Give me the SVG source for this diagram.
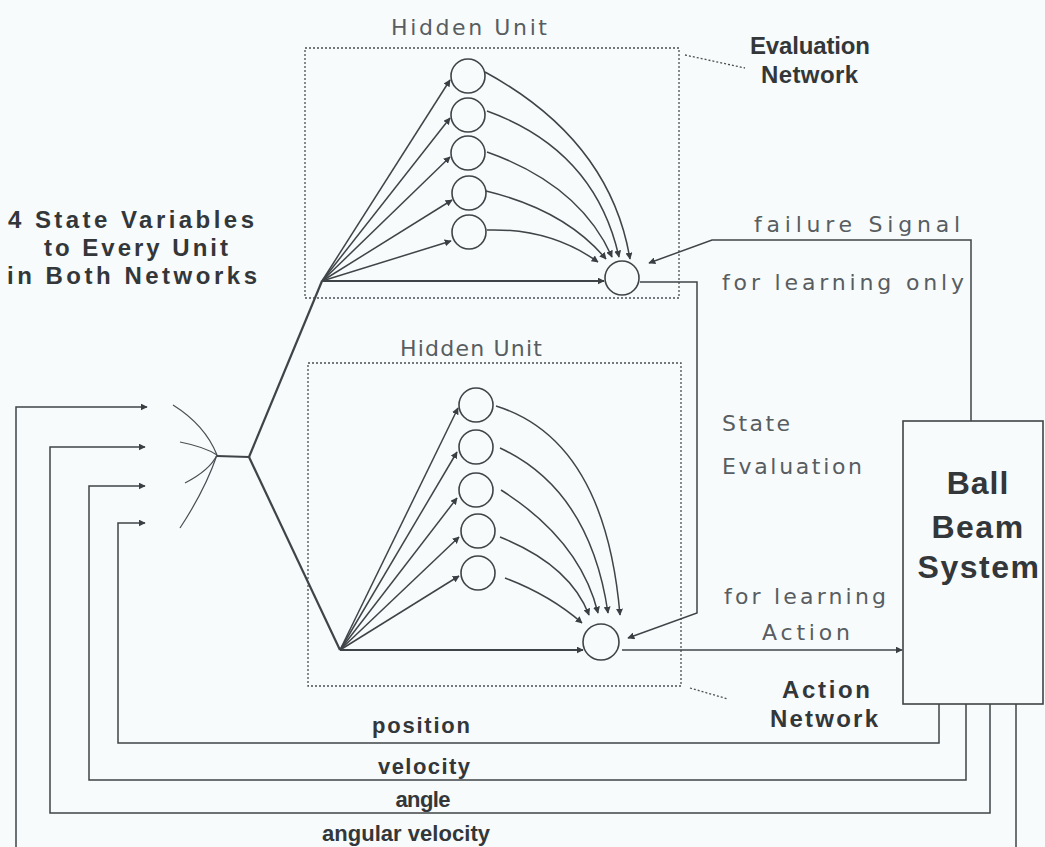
<svg xmlns="http://www.w3.org/2000/svg" width="1045" height="847" viewBox="0 0 1045 847">
  <defs>
    <marker id="arr" viewBox="0 0 10 10" refX="9" refY="5" markerWidth="7" markerHeight="7" markerUnits="userSpaceOnUse" orient="auto">
      <path d="M0,0 L10,5 L0,10 z" fill="#3a3f44"/>
    </marker>
    <style>
      .ln { fill: none; stroke: #3f4448; stroke-width: 1.5; }
      .thick { fill: none; stroke: #3f4448; stroke-width: 2.2; }
      .thin { fill: none; stroke: #4a4f54; stroke-width: 1.2; }
      .dot { fill: none; stroke: #4a4f54; stroke-width: 1.3; stroke-dasharray: 2 2; }
      .node { fill: none; stroke: #3f4448; stroke-width: 1.6; }
      .lbl { font-family: "DejaVu Sans", "Liberation Sans", sans-serif; font-size: 22px; fill: #585d61; }
      .bold { font-family: "Liberation Sans", Arial, sans-serif; font-weight: bold; font-size: 22px; fill: #33373a; }
      .bold.lg { font-size: 24px; }
      .big { font-family: "Liberation Sans", Arial, sans-serif; font-weight: bold; font-size: 32px; fill: #33373a; }
    </style>
  </defs>

  <rect x="0" y="0" width="1045" height="847" fill="#f7fbfb"/>

  <!-- Evaluation network -->
  <g id="evaluation-network">
    <rect class="dot" x="305" y="48" width="374" height="250"/>
    <text class="lbl" x="391" y="35" textLength="156" lengthAdjust="spacing">Hidden Unit</text>
    <circle class="node" cx="468" cy="76" r="17"/>
    <circle class="node" cx="468" cy="115" r="17"/>
    <circle class="node" cx="468" cy="153" r="17"/>
    <circle class="node" cx="469" cy="193" r="17"/>
    <circle class="node" cx="469" cy="232" r="17"/>
    <circle class="node" cx="622" cy="278" r="17"/>
  </g>

  <!-- Action network -->
  <g id="action-network">
    <rect class="dot" x="308" y="363" width="373" height="323"/>
    <text class="lbl" x="400" y="356" textLength="142" lengthAdjust="spacing">Hidden Unit</text>
    <circle class="node" cx="476" cy="405" r="17"/>
    <circle class="node" cx="476" cy="447" r="17"/>
    <circle class="node" cx="476" cy="490" r="17"/>
    <circle class="node" cx="478" cy="531" r="17"/>
    <circle class="node" cx="478" cy="573" r="17"/>
    <circle class="node" cx="601" cy="642" r="18"/>
  </g>

  <!-- Plant -->
  <g id="ball-beam-system">
    <rect x="903" y="421" width="140" height="283" fill="none" stroke="#3f4448" stroke-width="1.6"/>
    <text class="big" x="978" y="494" text-anchor="middle" letter-spacing="1">Ball</text>
    <text class="big" x="978" y="538" text-anchor="middle" letter-spacing="1.5">Beam</text>
    <text class="big" x="979" y="578" text-anchor="middle" letter-spacing="1.5">System</text>
  </g>

  <!-- Labels -->
  <g id="labels">
    <text class="bold lg" x="131" y="228" text-anchor="middle" textLength="246" lengthAdjust="spacing">4 State Variables</text>
    <text class="bold lg" x="136" y="256" text-anchor="middle" textLength="184" lengthAdjust="spacing">to Every Unit</text>
    <text class="bold lg" x="132" y="284" text-anchor="middle" textLength="250" lengthAdjust="spacing">in Both Networks</text>

    <text class="bold lg" x="750" y="54" textLength="120" lengthAdjust="spacing">Evaluation</text>
    <text class="bold lg" x="761" y="83" textLength="97" lengthAdjust="spacing">Network</text>

    <text class="lbl" x="754" y="232" textLength="206" lengthAdjust="spacing">failure Signal</text>
    <text class="lbl" x="722" y="290" textLength="242" lengthAdjust="spacing">for learning only</text>

    <text class="lbl" x="722" y="431" textLength="68" lengthAdjust="spacing">State</text>
    <text class="lbl" x="722" y="474" textLength="140" lengthAdjust="spacing">Evaluation</text>

    <text class="lbl" x="724" y="604" textLength="162" lengthAdjust="spacing">for learning</text>
    <text class="lbl" x="762" y="640" textLength="88" lengthAdjust="spacing">Action</text>

    <text class="bold lg" x="782" y="698" textLength="88" lengthAdjust="spacing">Action</text>
    <text class="bold lg" x="770" y="727" textLength="108" lengthAdjust="spacing">Network</text>

    <text class="bold" x="421" y="733" text-anchor="middle" textLength="98" lengthAdjust="spacing">position</text>
    <text class="bold" x="424" y="774" text-anchor="middle" textLength="92" lengthAdjust="spacing">velocity</text>
    <text class="bold" x="423" y="807" text-anchor="middle" textLength="55" lengthAdjust="spacing">angle</text>
    <text class="bold" x="406" y="841" text-anchor="middle" textLength="168" lengthAdjust="spacing">angular velocity</text>
  </g>

  <!-- Connectors -->
  <g id="connectors">
    <!-- label leaders -->
    <line class="dot" x1="685" y1="55" x2="745" y2="68"/>
    <line class="dot" x1="690" y1="688" x2="728" y2="699"/>

    <!-- state feedback loops from the plant -->
    <polyline class="ln" points="939,704 939,743 118,743 118,523 145,523" marker-end="url(#arr)"/>
    <polyline class="ln" points="966,704 966,780 89,780 89,486 145,486" marker-end="url(#arr)"/>
    <polyline class="ln" points="990,704 990,813 50,813 50,447 145,447" marker-end="url(#arr)"/>
    <polyline class="ln" points="1016,704 1016,847"/>
    <polyline class="ln" points="16,847 16,407 147,407" marker-end="url(#arr)"/>

    <!-- bundling of the four inputs -->
    <path class="thin" d="M173,405 Q205,425 217,455"/>
    <path class="thin" d="M180,442 Q205,447 217,455"/>
    <path class="thin" d="M185,483 Q210,470 217,455"/>
    <path class="thin" d="M180,528 Q205,490 217,455"/>
    <line class="thick" x1="217" y1="456" x2="249" y2="457"/>
    <line class="thick" x1="249" y1="457" x2="322" y2="281"/>
    <line class="thick" x1="249" y1="457" x2="340" y2="650"/>

    <!-- evaluation network: inputs to hidden units -->
    <line class="ln" x1="322" y1="281" x2="450" y2="80" marker-end="url(#arr)"/>
    <line class="ln" x1="322" y1="281" x2="450" y2="118" marker-end="url(#arr)"/>
    <line class="ln" x1="322" y1="281" x2="450" y2="157" marker-end="url(#arr)"/>
    <line class="ln" x1="322" y1="281" x2="452" y2="200" marker-end="url(#arr)"/>
    <line class="ln" x1="322" y1="281" x2="451" y2="241" marker-end="url(#arr)"/>
    <line class="thick" x1="322" y1="281" x2="604" y2="281" marker-end="url(#arr)"/>

    <!-- evaluation network: hidden units to output -->
    <path class="ln" d="M485,72 Q610,140 630,259" marker-end="url(#arr)"/>
    <path class="ln" d="M487,111 Q595,150 619,257" marker-end="url(#arr)"/>
    <path class="ln" d="M487,152 Q580,185 612,257" marker-end="url(#arr)"/>
    <path class="ln" d="M486,191 Q565,210 606,259" marker-end="url(#arr)"/>
    <path class="ln" d="M487,230 Q550,228 598,262" marker-end="url(#arr)"/>

    <!-- failure signal -->
    <polyline class="ln" points="971,421 971,240 712,240 649,263" marker-end="url(#arr)"/>

    <!-- state evaluation to the action network -->
    <polyline class="ln" points="640,282 697,282 697,613 628,638" marker-end="url(#arr)"/>

    <!-- action network: inputs to hidden units -->
    <line class="ln" x1="340" y1="650" x2="458" y2="408" marker-end="url(#arr)"/>
    <line class="ln" x1="340" y1="650" x2="457" y2="452" marker-end="url(#arr)"/>
    <line class="ln" x1="340" y1="650" x2="457" y2="498" marker-end="url(#arr)"/>
    <line class="ln" x1="340" y1="650" x2="459" y2="537" marker-end="url(#arr)"/>
    <line class="ln" x1="340" y1="650" x2="459" y2="576" marker-end="url(#arr)"/>
    <line class="thick" x1="340" y1="650" x2="583" y2="650" marker-end="url(#arr)"/>

    <!-- action network: hidden units to output -->
    <path class="ln" d="M496,406 Q605,440 620,615" marker-end="url(#arr)"/>
    <path class="ln" d="M500,448 Q590,490 608,613" marker-end="url(#arr)"/>
    <path class="ln" d="M501,490 Q580,540 598,613" marker-end="url(#arr)"/>
    <path class="ln" d="M500,537 Q570,565 589,615" marker-end="url(#arr)"/>
    <path class="ln" d="M505,578 Q550,595 582,623" marker-end="url(#arr)"/>

    <!-- action to the plant -->
    <line class="ln" x1="622" y1="650" x2="902" y2="650" marker-end="url(#arr)"/>
  </g>
</svg>
